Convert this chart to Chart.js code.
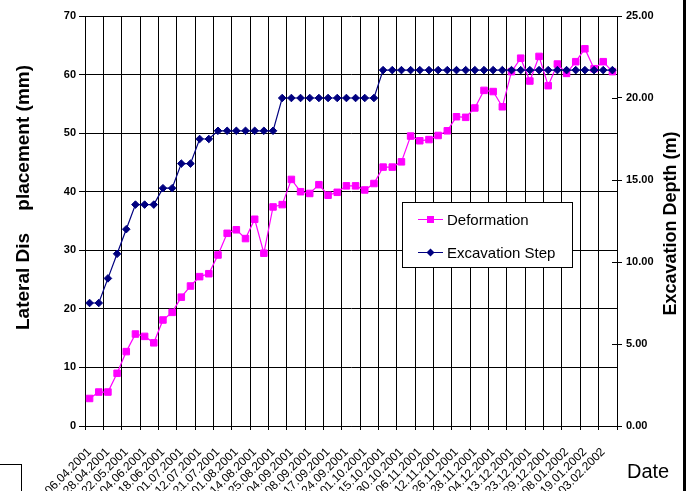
<!DOCTYPE html>
<html>
<head>
<meta charset="utf-8">
<script src="https://cdn.jsdelivr.net/npm/chart.js@4/dist/chart.umd.min.js"></script>
<style>
  html, body { margin: 0; padding: 0; background: #fff; overflow: hidden; }
  canvas { display: block; }
</style>
</head>
<body>
<canvas id="chart" width="687" height="491"></canvas>
<script>
// Survey dates written under every second reading
const dateLabels = [
  '06.04.2001', '28.04.2001', '22.05.2001', '04.06.2001', '18.06.2001',
  '01.07.2001', '12.07.2001', '21.07.2001', '01.08.2001', '14.08.2001',
  '25.08.2001', '04.09.2001', '08.09.2001', '17.09.2001', '24.09.2001',
  '01.10.2001', '15.10.2001', '30.10.2001', '06.11.2001', '12.11.2001',
  '26.11.2001', '28.11.2001', '04.12.2001', '13.12.2001', '23.12.2001',
  '29.12.2001', '08.01.2002', '19.01.2002', '03.02.2002'
];

// Lateral displacement per reading (mm)
const deformation = [
  4.7, 5.8, 5.8, 9.0, 12.7, 15.7, 15.3, 14.2, 18.1, 19.4,
  22.0, 23.9, 25.5, 26.0, 29.2, 32.9, 33.5, 32.0, 35.3, 29.5,
  37.4, 37.8, 42.1, 40.0, 39.7, 41.2, 39.4, 39.9, 41.0, 41.0,
  40.3, 41.4, 44.2, 44.2, 45.1, 49.5, 48.7, 48.9, 49.6, 50.4,
  52.8, 52.7, 54.3, 57.3, 57.1, 54.5, 60.5, 62.8, 58.9, 63.1,
  58.1, 61.8, 60.2, 62.2, 64.4, 61.0, 62.2, 60.5
];

// Excavation depth reached at each reading (m)
const excavationStep = [
  7.5, 7.5, 9.0, 10.5, 12.0, 13.5, 13.5, 13.5, 14.5, 14.5,
  16.0, 16.0, 17.5, 17.5, 18.0, 18.0, 18.0, 18.0, 18.0, 18.0,
  18.0, 20.0, 20.0, 20.0, 20.0, 20.0, 20.0, 20.0, 20.0, 20.0,
  20.0, 20.0, 21.7, 21.7, 21.7, 21.7, 21.7, 21.7, 21.7, 21.7,
  21.7, 21.7, 21.7, 21.7, 21.7, 21.7, 21.7, 21.7, 21.7, 21.7,
  21.7, 21.7, 21.7, 21.7, 21.7, 21.7, 21.7, 21.7
];

// One category per reading; only every second one carries a date
const categories = dateLabels.flatMap(d => [d, '']);

const FONT = '"Liberation Sans", Arial, Helvetica, sans-serif';
const PINK = '#FF00FF';
const NAVY = '#000080';

function square(ctx, x, y, s, color) {
  ctx.fillStyle = color;
  ctx.fillRect(x - s / 2, y - s / 2, s, s);
}
function diamond(ctx, x, y, r, color) {
  ctx.fillStyle = color;
  ctx.beginPath();
  ctx.moveTo(x - r, y); ctx.lineTo(x, y - r); ctx.lineTo(x + r, y); ctx.lineTo(x, y + r);
  ctx.closePath();
  ctx.fill();
}

const decorations = {
  id: 'decorations',
  afterDraw(chart) {
    const { ctx, chartArea: area, scales } = chart;
    ctx.save();
    ctx.strokeStyle = '#000';
    ctx.lineWidth = 1;

    // inner half of the right-axis tick marks
    const y1 = scales.y1;
    y1.ticks.forEach(t => {
      const py = Math.round(y1.getPixelForValue(t.value)) + 0.5;
      ctx.beginPath();
      ctx.moveTo(area.right - 5, py);
      ctx.lineTo(area.right, py);
      ctx.stroke();
    });

    // axis titles
    ctx.fillStyle = '#000';
    ctx.font = 'bold 19px ' + FONT;
    ctx.textBaseline = 'alphabetic';
    ctx.save();
    ctx.translate(29, 330);
    ctx.rotate(-Math.PI / 2);
    ctx.textAlign = 'left';
    ctx.fillText('Lateral Dis', 0, 0);
    ctx.restore();
    ctx.save();
    ctx.translate(29, 65);
    ctx.rotate(-Math.PI / 2);
    ctx.textAlign = 'right';
    ctx.fillText('placement (mm)', 0, 0);
    ctx.restore();
    ctx.font = 'bold 18px ' + FONT;
    ctx.save();
    ctx.translate(676, 223.5);
    ctx.rotate(-Math.PI / 2);
    ctx.textAlign = 'center';
    ctx.fillText('Excavation Depth (m)', 0, 0);
    ctx.restore();

    ctx.font = '20px ' + FONT;
    ctx.textAlign = 'left';
    ctx.fillText('Date', 627, 478);

    // legend
    const lx = 402.5, ly = 202.5, lw = 170, lh = 65;
    ctx.fillStyle = '#fff';
    ctx.fillRect(lx, ly, lw, lh);
    ctx.strokeRect(lx, ly, lw, lh);
    const rows = [
      { text: 'Deformation', color: PINK, y: 219.5, mark: 'square' },
      { text: 'Excavation Step', color: NAVY, y: 252.5, mark: 'diamond' }
    ];
    ctx.font = '15px ' + FONT;
    ctx.textBaseline = 'middle';
    rows.forEach(r => {
      ctx.strokeStyle = r.color;
      ctx.beginPath();
      ctx.moveTo(418, r.y);
      ctx.lineTo(443, r.y);
      ctx.stroke();
      if (r.mark === 'square') square(ctx, 430.5, r.y, 7, r.color);
      else diamond(ctx, 430.5, r.y, 4, r.color);
      ctx.fillStyle = '#000';
      ctx.fillText(r.text, 447, r.y + 1);
    });

    // frame pieces at the edges
    ctx.fillStyle = '#000';
    ctx.fillRect(683, 0, 3, 491);
    ctx.strokeStyle = '#000';
    ctx.strokeRect(-0.5, 464.5, 22, 40);
    ctx.restore();
  }
};

new Chart(document.getElementById('chart'), {
  type: 'line',
  data: {
    labels: categories,
    datasets: [
      {
        label: 'Deformation',
        data: deformation,
        yAxisID: 'y',
        borderColor: PINK,
        backgroundColor: PINK,
        borderWidth: 1.2,
        pointStyle: 'rect',
        pointRadius: 4.6,
        pointBorderWidth: 1,
        pointBackgroundColor: PINK,
        pointBorderColor: PINK,
        tension: 0,
        fill: false,
        order: 1
      },
      {
        label: 'Excavation Step',
        data: excavationStep,
        yAxisID: 'y1',
        borderColor: NAVY,
        backgroundColor: NAVY,
        borderWidth: 1.2,
        pointStyle: 'rectRot',
        pointRadius: 3.8,
        pointBorderWidth: 1,
        pointBackgroundColor: NAVY,
        pointBorderColor: NAVY,
        tension: 0,
        fill: false,
        order: 0
      }
    ]
  },
  options: {
    responsive: false,
    animation: false,
    events: [],
    layout: { padding: { top: 16, left: 0, right: 0, bottom: 0 } },
    plugins: { legend: { display: false }, tooltip: { enabled: false } },
    scales: {
      x: {
        type: 'category',
        offset: true,
        grid: {
          offset: true,
          color: c => (c.index === undefined || c.index % 2 === 0) ? '#000' : 'rgba(0,0,0,0)',
          lineWidth: 1,
          tickLength: 4
        },
        border: { color: '#000', width: 1 },
        ticks: {
          autoSkip: false,
          maxRotation: 45,
          minRotation: 45,
          color: '#000',
          padding: 15,
          font: { family: FONT, size: 12 }
        },
        afterFit(s) { s.height = 65; }
      },
      y: {
        position: 'left',
        min: 0,
        max: 70,
        ticks: {
          stepSize: 10,
          color: '#000',
          padding: 3,
          font: { family: FONT, size: 11, weight: 'bold' }
        },
        grid: { color: '#000', lineWidth: 1, tickLength: 6 },
        border: { color: '#000', width: 1 },
        afterFit(s) { s.width = 85; }
      },
      y1: {
        position: 'right',
        min: 0,
        max: 25,
        ticks: {
          stepSize: 5,
          color: '#000',
          padding: 4,
          font: { family: FONT, size: 11, weight: 'bold' },
          callback: v => Number(v).toFixed(2)
        },
        grid: { drawOnChartArea: false, color: '#000', tickLength: 5 },
        border: { color: '#000', width: 1 },
        afterFit(s) { s.width = 70; }
      }
    }
  },
  plugins: [decorations]
});
</script>
</body>
</html>
